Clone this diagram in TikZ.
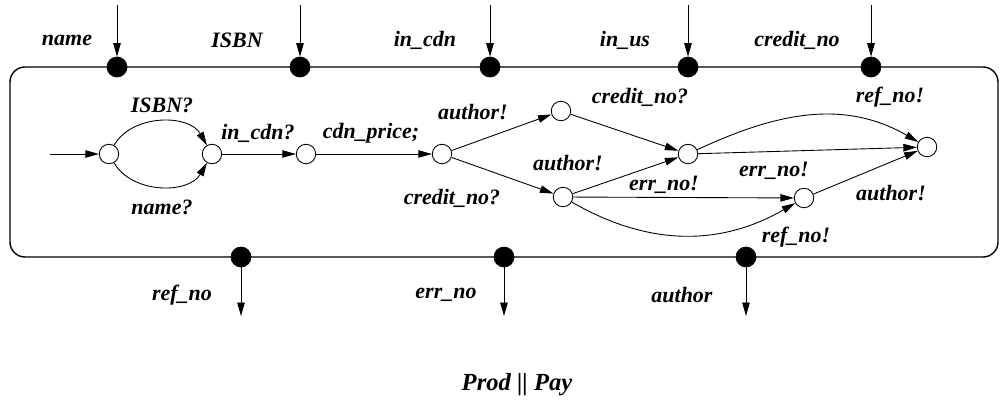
\documentclass[tikz,border=0pt]{standalone}
\usepackage{fontspec}
\setmainfont{Liberation Serif}
\usepackage{tikz}
\usetikzlibrary{arrows.meta}

\begin{document}
\begin{tikzpicture}[x=0.02cm, y=0.02cm,
  st/.style={draw, circle, inner sep=0pt, minimum size=0.39cm, line width=0.5pt},
  port/.style={draw, circle, fill=black, inner sep=0pt, minimum size=0.4cm},
  lbl/.style={font=\bfseries\itshape\fontsize{12.5}{14}\selectfont, inner sep=0pt},
  edge/.style={-{Triangle[length=0.27cm, width=0.15cm]}, line width=0.5pt}]
\useasboundingbox (0,0) rectangle (1000,-406);

% System box
\draw[line width=0.8pt, rounded corners=0.3cm] (10,-67) rectangle (998,-257);

% Input ports
\node[port] (pname) at (117,-67) {};
\node[port] (pisbn) at (300,-67) {};
\node[port] (pcdn) at (490,-67) {};
\node[port] (pus) at (688,-67) {};
\node[port] (pcred) at (871,-67) {};
\coordinate (iname) at (117,-5);
\coordinate (iisbn) at (300,-5);
\coordinate (icdn) at (490,-5);
\coordinate (ius) at (688,-5);
\coordinate (icred) at (871,-5);
\draw[edge] (iname) -- (pname);
\draw[edge] (iisbn) -- (pisbn);
\draw[edge] (icdn) -- (pcdn);
\draw[edge] (ius) -- (pus);
\draw[edge] (icred) -- (pcred);
\node[lbl] at (67,-40) {name};
\node[lbl] at (237,-40) {ISBN};
\node[lbl] at (425,-40) {in\_cdn};
\node[lbl] at (625,-40) {in\_us};
\node[lbl] at (797,-40) {credit\_no};

% Output ports
\node[port] (pref) at (241,-257) {};
\node[port] (perr) at (504,-257) {};
\node[port] (pauth) at (746,-257) {};
\coordinate (oref) at (241,-316);
\coordinate (oerr) at (504,-316);
\coordinate (oauth) at (746,-316);
\draw[edge] (pref) -- (oref);
\draw[edge] (perr) -- (oerr);
\draw[edge] (pauth) -- (oauth);
\node[lbl] at (182,-295) {ref\_no};
\node[lbl] at (446,-295) {err\_no};
\node[lbl] at (682,-295) {author};

% States
\node[st] (q0) at (109,-154) {};
\node[st] (q1) at (212,-154) {};
\node[st] (q2) at (306,-154) {};
\node[st] (q3) at (442,-154) {};
\node[st] (q4) at (561,-111) {};
\node[st] (q5) at (688,-154) {};
\node[st] (q6) at (563,-197) {};
\node[st] (q7) at (804,-198) {};
\node[st] (q8) at (927,-147) {};
\coordinate (init) at (50,-154);

% Transitions
\draw[edge] (init) -- (q0);
\draw[edge] (q0) to[out=60, in=120] (q1);
\draw[edge] (q0) to[out=-60, in=-120] (q1);
\draw[edge] (q1) -- (q2);
\draw[edge] (q2) -- (q3);
\draw[edge] (q3) -- (q4);
\draw[edge] (q3) -- (q6);
\draw[edge] (q4) -- (q5);
\draw[edge] (q6) -- (q5);
\draw[edge] (q5) -- (q8);
\draw[edge] (q5) to[out=25, in=150] (q8);
\draw[edge] (q6) -- (q7);
\draw[edge] (q6) to[out=-30, in=-150] (q7);
\draw[edge] (q7) -- (q8);

% Transition labels
\node[lbl] at (162,-105) {ISBN?};
\node[lbl] at (162,-207) {name?};
\node[lbl] at (258,-133) {in\_cdn?};
\node[lbl] at (371,-133) {cdn\_price;};
\node[lbl] at (473,-112) {author!};
\node[lbl] at (452,-198) {credit\_no?};
\node[lbl] at (640,-97) {credit\_no?};
\node[lbl] at (568,-163) {author!};
\node[lbl] at (890,-97) {ref\_no!};
\node[lbl] at (664,-185) {err\_no!};
\node[lbl] at (774,-171) {err\_no!};
\node[lbl] at (891,-193) {author!};
\node[lbl] at (796,-237) {ref\_no!};

% Caption
\node[lbl, font=\bfseries\itshape\fontsize{14}{16}\selectfont] (cap) at (517,-385) {Prod || Pay};

\end{tikzpicture}
\end{document}
